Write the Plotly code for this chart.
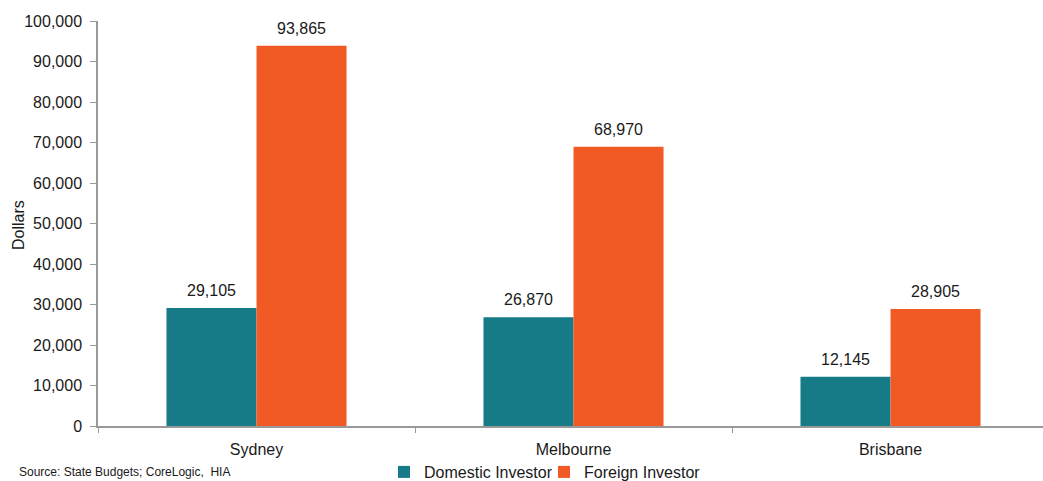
import plotly.graph_objects as go

categories = ["Sydney", "Melbourne", "Brisbane"]
domestic = [29105, 26870, 12145]
foreign = [93865, 68970, 28905]
y_ticks = list(range(0, 100001, 10000))
y_tick_labels = [f"{v:,}" for v in y_ticks]

FONT = "Liberation Sans, Arial, sans-serif"
TEAL = "#167B86"
ORANGE = "#F15A24"

fig = go.Figure()
fig.add_trace(go.Bar(
    name="Domestic Investor", x=categories, y=domestic, marker_color=TEAL,
    marker_line_width=0,
))
fig.add_trace(go.Bar(
    name="Foreign Investor", x=categories, y=foreign, marker_color=ORANGE,
    marker_line_width=0,
))

annotations = []
for series, shift in ((domestic, -45), (foreign, 45)):
    for cat, val in zip(categories, series):
        annotations.append(dict(
            x=cat, y=val, xref="x", yref="y", text=f"{val:,}", showarrow=False,
            xanchor="center", yanchor="bottom", xshift=shift, yshift=7,
            font=dict(size=16, family=FONT, color="#1a1a1a"),
        ))
annotations.append(dict(
    text="Source: State Budgets; CoreLogic,  HIA", xref="paper", yref="paper",
    x=(17 - 98) / 945, y=-(472 - 426) / 405, xanchor="left", yanchor="middle",
    showarrow=False, font=dict(size=12, family=FONT, color="#1a1a1a"),
))
annotations.append(dict(
    text="Dollars", xref="paper", yref="paper", textangle=-90,
    x=(18 - 98) / 945, y=(426 - 225) / 405, xanchor="center", yanchor="middle",
    showarrow=False, font=dict(size=16, family=FONT, color="#1a1a1a"),
))

fig.update_layout(
    width=1043, height=481,
    margin=dict(l=98, r=0, t=21, b=55, autoexpand=False),
    paper_bgcolor="white", plot_bgcolor="white",
    barmode="group", bargap=0.432, bargroupgap=0,
    font=dict(family=FONT, size=16, color="#1a1a1a"),
    showlegend=True,
    legend=dict(orientation="h", x=(384 - 98) / 945, y=-(455 - 426) / 405,
                xanchor="left", yanchor="top",
                font=dict(size=16, family=FONT), traceorder="normal",
                entrywidth=115, entrywidthmode="pixels",
                itemwidth=30, bgcolor="rgba(0,0,0,0)"),
    xaxis=dict(
        range=[-0.5, 2.481], showline=True, linecolor="#999999", linewidth=1.5,
        ticks="outside", tickson="boundaries", ticklen=5, tickcolor="#999999",
        ticklabelstandoff=8,
        showgrid=False, tickfont=dict(size=16), fixedrange=True,
    ),
    yaxis=dict(
        range=[0, 100000], tickvals=y_ticks, ticktext=y_tick_labels,
        showline=True, linecolor="#999999", linewidth=1.5,
        ticks="outside", ticklen=6, tickcolor="#999999", ticklabelstandoff=5,
        showgrid=False, zeroline=False, tickfont=dict(size=16),
    ),
    annotations=annotations,
)

fig.write_html("out.html")
